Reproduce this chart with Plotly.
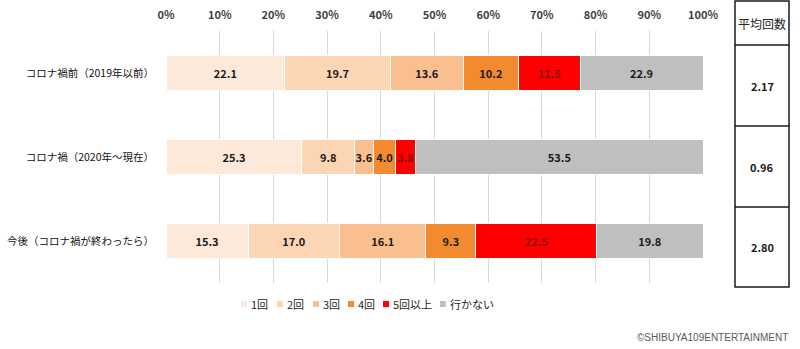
import plotly.graph_objects as go

# Survey rows (top to bottom)
categories = ["コロナ禍前（2019年以前）", "コロナ禍（2020年～現在）", "今後（コロナ禍が終わったら）"]

# Share of respondents by visit frequency (%)
series_names = ["1回", "2回", "3回", "4回", "5回以上", "行かない"]
once = [22.1, 25.3, 15.3]
twice = [19.7, 9.8, 17.0]
three_times = [13.6, 3.6, 16.1]
four_times = [10.2, 4.0, 9.3]
five_plus = [11.5, 3.8, 22.5]
never = [22.9, 53.5, 19.8]

# Average number of visits per row
avg_header = "平均回数"
avg_visits = ["2.17", "0.96", "2.80"]

tick_values = [0, 10, 20, 30, 40, 50, 60, 70, 80, 90, 100]
tick_labels = [f"{v}%" for v in tick_values]

colors = ["#FDE9D9", "#FCD5B4", "#FABF8F", "#F28A30", "#FF0000", "#BFBFBF"]
text_colors = ["#1a1a1a", "#1a1a1a", "#1a1a1a", "#1a1a1a", "#8a1010", "#1a1a1a"]

FONT = "Noto Sans CJK JP"

# plot area in pixels
PL, PR, PT, PB = 166, 703, 31, 283
W, H = 800, 349


def px_to_paper_x(px):
    return (px - PL) / (PR - PL)


def px_to_paper_y(py):
    return (PB - py) / (PB - PT)


fig = go.Figure()
all_series = [once, twice, three_times, four_times, five_plus, never]
for name, vals, col, tcol in zip(series_names, all_series, colors, text_colors):
    fig.add_trace(go.Bar(
        y=categories, x=vals, orientation="h", name=name,
        marker=dict(color=col, line=dict(color="white", width=1)),
        text=[f"{v:.1f}" for v in vals], textposition="inside",
        insidetextanchor="middle", textangle=0,
        textfont=dict(family=FONT, size=11, color=tcol, weight="bold"),
        width=0.405, showlegend=False, hoverinfo="skip",
    ))

fig.update_layout(
    width=W, height=H,
    margin=dict(l=PL, r=W - PR, t=PT, b=H - PB, autoexpand=False),
    paper_bgcolor="white", plot_bgcolor="white",
    barmode="stack",
    uniformtext=dict(minsize=11, mode="show"),
    font=dict(family=FONT, size=11, color="#262626"),
    showlegend=False,
    xaxis=dict(range=[0, 100], side="top", tickvals=tick_values, ticktext=tick_labels,
               showgrid=True, gridcolor="#d9d9d9", gridwidth=1, zeroline=False,
               showline=False, ticks="", automargin=False, ticklabelstandoff=9,
               tickfont=dict(family=FONT, size=11, color="#404040", weight="bold"),
               fixedrange=True),
    yaxis=dict(autorange="reversed", showgrid=False, showline=False, ticks="",
               automargin=False, ticklabelstandoff=11,
               tickfont=dict(family=FONT, size=10.5, color="#111111")),
)

# Legend row: small colour swatch followed by its label
legend_px = [241, 277, 313, 348, 383, 440]
legend_y = 304
for name, col, lx in zip(series_names, colors, legend_px):
    fig.add_shape(type="rect", xref="paper", yref="paper",
                  x0=px_to_paper_x(lx), x1=px_to_paper_x(lx + 6),
                  y0=px_to_paper_y(legend_y + 3), y1=px_to_paper_y(legend_y - 3),
                  fillcolor=col, line=dict(width=0))
    fig.add_annotation(x=px_to_paper_x(lx + 8), y=px_to_paper_y(legend_y), xref="paper",
                       yref="paper", xanchor="left", yanchor="middle", text=name,
                       showarrow=False,
                       font=dict(family=FONT, size=11, color="#262626"))

# Average-visits table on the right
x0, x1 = px_to_paper_x(735), px_to_paper_x(789)
row_edges = [1, 45, 126, 207, 287]
ys = [px_to_paper_y(p) for p in row_edges]
fig.add_shape(type="rect", xref="paper", yref="paper", x0=x0, x1=x1, y0=ys[-1], y1=ys[0],
              line=dict(color="#1a1a1a", width=1.5))
for yy in ys[1:-1]:
    fig.add_shape(type="line", xref="paper", yref="paper", x0=x0, x1=x1, y0=yy, y1=yy,
                  line=dict(color="#1a1a1a", width=1.5))
xc = (x0 + x1) / 2
fig.add_annotation(x=xc, y=(ys[0] + ys[1]) / 2, xref="paper", yref="paper", text=avg_header,
                   xanchor="center", yanchor="middle", showarrow=False,
                   font=dict(family=FONT, size=12, color="#262626"))
for i, v in enumerate(avg_visits):
    fig.add_annotation(x=xc, y=(ys[i + 1] + ys[i + 2]) / 2, xref="paper", yref="paper",
                       text=v, xanchor="center", yanchor="middle", showarrow=False,
                       font=dict(family=FONT, size=11, color="#1a1a1a", weight="bold"))

fig.add_annotation(x=px_to_paper_x(790), y=px_to_paper_y(337), xref="paper", yref="paper",
                   xanchor="right", yanchor="middle", text="©SHIBUYA109ENTERTAINMENT",
                   showarrow=False,
                   font=dict(family="Liberation Sans", size=10, color="#595959"))

fig.write_html("out.html")
